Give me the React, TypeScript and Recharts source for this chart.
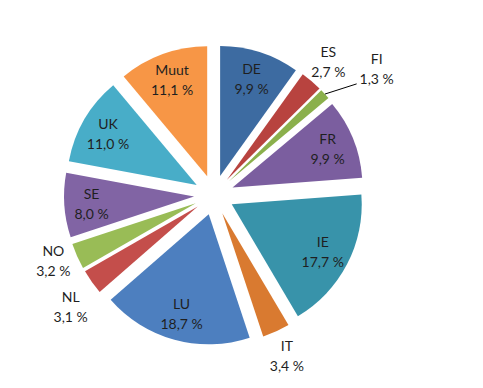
import { PieChart, Pie, Sector } from 'recharts';

const NAMES = ['DE', 'ES', 'FI', 'FR', 'IE', 'IT', 'LU', 'NL', 'NO', 'SE', 'UK', 'Muut'];
const VALUES = [9.9, 2.7, 1.3, 9.9, 17.7, 3.4, 18.7, 3.1, 3.2, 8.0, 11.0, 11.1];
const COLORS = [
  '#3D6BA1', '#B8433F', '#8BB04C', '#7B5E9F', '#3893AA', '#D97A30',
  '#4D7FBF', '#C44E4B', '#99BC56', '#8164A4', '#48ADC8', '#F79646',
];

const data = NAMES.map((name, i) => ({ name, value: VALUES[i] }));

const RAD = Math.PI / 180;
const EXPLODE = 20;
const TEXT = '#1f1f1f';
// small vertical nudges so neighbouring outside labels don't collide
const LABEL_DY: Record<string, number> = { NL: 9, NO: -6 };

const fmt = (v: number) => v.toFixed(1).replace('.', ',') + ' %';

const polar = (cx: number, cy: number, r: number, angle: number) => ({
  x: cx + r * Math.cos(-angle * RAD),
  y: cy + r * Math.sin(-angle * RAD),
});

function renderSlice(props: any) {
  const { cx, cy, midAngle, outerRadius, startAngle, endAngle, index } = props;
  const c = polar(cx, cy, EXPLODE, midAngle);
  return (
    <Sector
      key={'s' + index}
      cx={c.x}
      cy={c.y}
      innerRadius={0}
      outerRadius={outerRadius}
      startAngle={startAngle}
      endAngle={endAngle}
      fill={COLORS[index]}
      stroke="none"
    />
  );
}

function renderLabel(props: any) {
  const { cx, cy, midAngle, outerRadius, index } = props;
  const v = VALUES[index];
  const c = polar(cx, cy, EXPLODE, midAngle);
  let angle = midAngle;
  let r = outerRadius * 0.79;
  if (v < 5) r = outerRadius * 1.2;
  const tiny = v < 2;
  if (tiny) {
    angle = midAngle - 5;
    r = outerRadius * 1.43;
  }
  const p = polar(c.x, c.y, r, angle);
  p.y += LABEL_DY[NAMES[index]] || 0;
  const tip = polar(c.x, c.y, outerRadius, midAngle);
  return (
    <g key={'l' + index}>
      {tiny && (
        <polyline
          points={`${tip.x},${tip.y} ${p.x - 20},${p.y + 15}`}
          stroke="#000"
          strokeWidth={1}
          fill="none"
        />
      )}
      <text x={p.x} y={p.y - 10} textAnchor="middle" dominantBaseline="central" fill={TEXT} fontSize={14}>
        {NAMES[index]}
      </text>
      <text x={p.x} y={p.y + 10} textAnchor="middle" dominantBaseline="central" fill={TEXT} fontSize={14}>
        {fmt(v)}
      </text>
    </g>
  );
}

export default function App() {
  return (
    <div style={{ width: 475, height: 380, background: 'white', fontFamily: 'Lato, sans-serif' }}>
      <PieChart width={475} height={380} margin={{ top: 0, right: 0, bottom: 0, left: 0 }}>
        <Pie
          data={data}
          dataKey="value"
          nameKey="name"
          cx={206}
          cy={187}
          outerRadius={130}
          startAngle={90}
          endAngle={-270}
          fill="none"
          stroke="none"
          label={renderSlice}
          labelLine={false}
          isAnimationActive={false}
        />
        <Pie
          data={data}
          dataKey="value"
          nameKey="name"
          cx={206}
          cy={187}
          outerRadius={130}
          startAngle={90}
          endAngle={-270}
          fill="none"
          stroke="none"
          label={renderLabel}
          labelLine={false}
          isAnimationActive={false}
        />
      </PieChart>
    </div>
  );
}
